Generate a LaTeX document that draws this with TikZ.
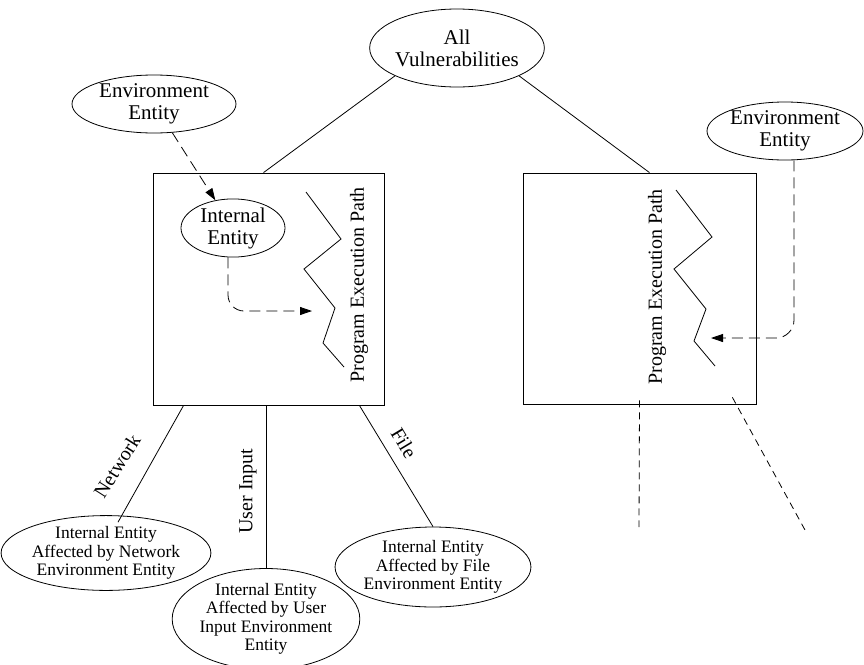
\documentclass[tikz,border=0pt]{standalone}
\usepackage{fontspec}
\setmainfont{Liberation Serif}
\usetikzlibrary{shapes.geometric, arrows.meta, positioning, calc}

\begin{document}
\begin{tikzpicture}[
    x=1pt, y=-1pt,
    line width=0.8pt,
    ent/.style={
        ellipse, draw, inner sep=0pt, align=center,
        font=\fontsize{21}{22}\selectfont
    },
    subent/.style={
        ellipse, draw, inner sep=0pt, align=center,
        font=\fontsize{17.5}{18.5}\selectfont
    },
    prog/.style={
        rectangle, draw, inner sep=0pt
    },
    lbl/.style={font=\fontsize{20}{22}\selectfont, inner sep=0pt},
    dasharr/.style={-{Triangle[length=12pt,width=8pt]}, dash pattern=on 11pt off 6pt},
    dotline/.style={dash pattern=on 7pt off 5pt}
]
\useasboundingbox (0,0) rectangle (864,664);

% --- Root ---
\node[ent, minimum width=170pt, minimum height=78pt] (allv) at (457,48)
      {All\\Vulnerabilities};

% --- Program boxes ---
\node[prog, minimum width=231pt, minimum height=232pt] (lbox) at (268.5,289) {};
\node[prog, minimum width=233pt, minimum height=231pt] (rbox) at (639.5,288.5) {};

\draw (allv.south west) -- ([xshift=-5pt]lbox.north);
\draw (allv.south east) -- ([xshift=10pt]rbox.north);

% --- Left program ---
\node[ent, minimum width=164pt, minimum height=58pt] (lenv) at (154,104)
      {Environment\\Entity};
\node[ent, minimum width=104pt, minimum height=58pt] (ient) at (233,228)
      {Internal\\Entity};
\draw (306,192) -- (341,239) -- (304,269) -- (335,308) -- (323,343) -- (344,367);
\node[lbl, rotate=90] (lpath) at (359,285) {Program Execution Path};
\coordinate (ltip) at (312,311);

\draw[dasharr] (lenv) -- (ient);
\draw[dasharr, rounded corners=16pt] ([xshift=-5pt]ient.south) |- (ltip);

% --- Right program ---
\node[ent, minimum width=156pt, minimum height=58pt] (renv) at (785,131)
      {Environment\\Entity};
\draw (676,190) -- (712,237) -- (674,269) -- (706,309) -- (694,341) -- (715,366);
\node[lbl, rotate=90] (rpath) at (657,287) {Program Execution Path};
\coordinate (rtip) at (711,338);

\draw[dasharr, rounded corners=18pt] ([xshift=9pt]renv.south) |- (rtip);

% --- Affected internal entities ---
\node[subent, minimum width=196pt, minimum height=74pt] (net) at (106,553)
      {Internal Entity\\Affected by Network\\Environment Entity};
\node[subent, minimum width=172pt, minimum height=90pt] (uin) at (266,619)
      {Internal Entity\\Affected by User\\Input Environment\\Entity};
\node[subent, minimum width=178pt, minimum height=80pt] (file) at (433,567)
      {Internal Entity\\Affected by File\\Environment Entity};

\draw ([xshift=31pt]lbox.south west) -- ([xshift=12pt,yshift=-7pt]net.north);
\draw ([xshift=-2.5pt]lbox.south) -- (uin.north);
\draw ([xshift=-25pt]lbox.south east) -- (file.north);

\node[lbl, rotate=57.6] (lnet) at (117,466) {Network};
\node[lbl, rotate=90] (luin) at (248,491) {User Input};
\node[lbl, rotate=-59] (lfile) at (404,443) {File};

% --- Right branches (elided) ---
\coordinate (rb1) at (639,527);
\coordinate (rb2) at (805,530);
\draw[dotline] ([yshift=4pt]rbox.south) -- (rb1);
\draw[dotline] ([xshift=-24pt,yshift=7pt]rbox.south east) -- (rb2);
\end{tikzpicture}
\end{document}
